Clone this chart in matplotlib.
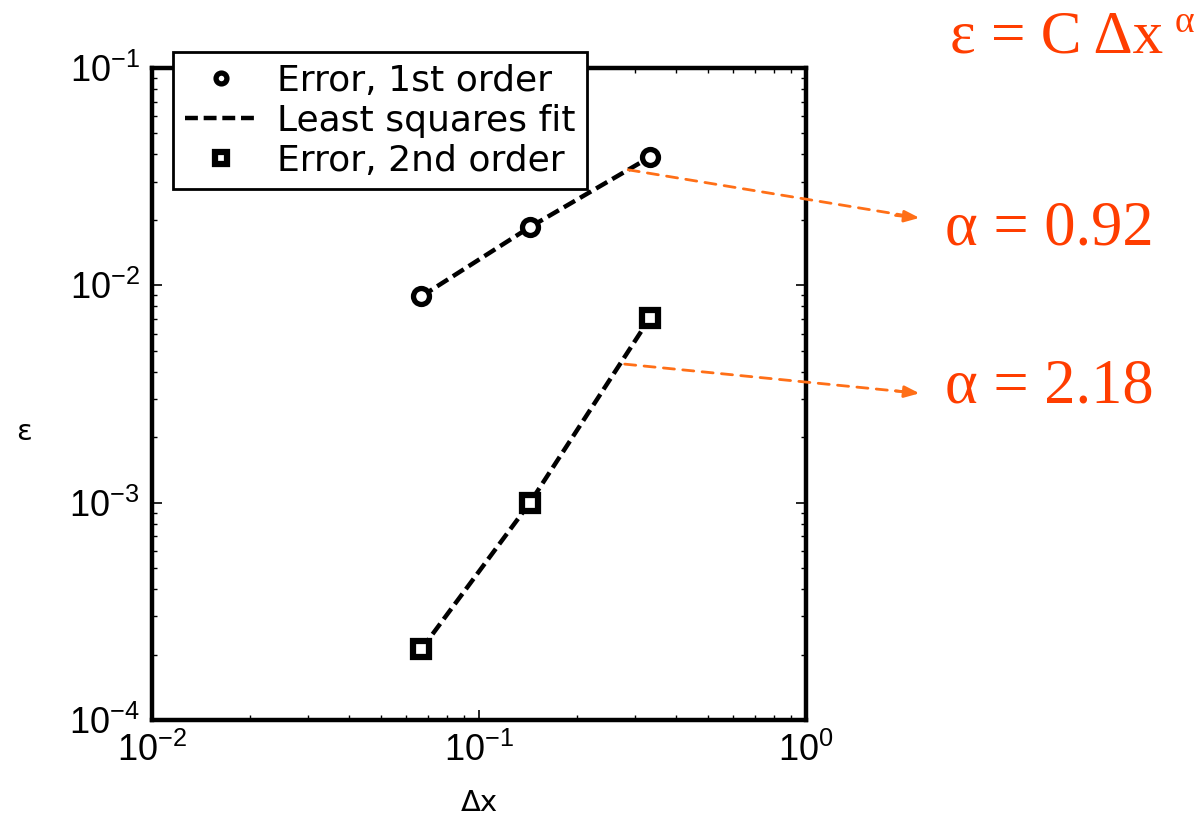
import numpy as np
import matplotlib
matplotlib.use('Agg')
import matplotlib.pyplot as plt

plt.rcParams['font.family'] = ['Liberation Sans', 'DejaVu Sans']

# grid spacing and measured errors
dx = [1/15., 1/7., 1/3.]
err1 = [0.0089, 0.0185, 0.0389]      # 1st order scheme
err2 = [2.12e-4, 9.95e-4, 7.08e-3]   # 2nd order scheme
alphas = [0.92, 2.18]

black = 'k'
orange_txt = '#ff3d00'
orange_arr = '#ff6f17'
dash = (0, (2.9, 1.3))

fig = plt.figure(figsize=(12.02, 8.16), dpi=100)
ax = fig.add_axes([0.1265, 0.1176, 0.5440, 0.7991])

ax.plot(dx, err1, 'o', ms=11.5, mew=3.8, mfc='white', mec=black, label='Error, 1st order', zorder=3)
ax.plot(dx, err1, color=black, lw=3.2, linestyle=dash, label='Least squares fit')
ax.plot(dx, err2, 's', ms=12, mew=4.5, mfc='white', mec=black, label='Error, 2nd order', zorder=3)
ax.plot(dx, err2, color=black, lw=3.2, linestyle=dash)

ax.set_xscale('log')
ax.set_yscale('log')
ax.set_xlim(1e-2, 1e0)
ax.set_ylim(1e-4, 1e-1)
for s in ax.spines.values():
    s.set_linewidth(3.2)
ax.tick_params(which='both', direction='in', top=True, right=True, labelsize=26, width=1.2)
ax.tick_params(which='major', length=7, pad=9)
ax.tick_params(which='minor', length=3.5, width=1)

ax.set_xlabel('Δx', fontsize=21, family='DejaVu Sans', va='bottom')
ax.xaxis.set_label_coords(0.5, -0.1487)
ax.set_ylabel('ε', fontsize=21, family='DejaVu Sans', rotation=0, va='center', ha='center')
ax.yaxis.set_label_coords(-0.196, 0.442)

# legend sticking out over the top of the axes
leg = ax.legend(loc='upper left', bbox_to_anchor=(173/1202., 1 - 52/816.),
                bbox_transform=fig.transFigure, prop={'family': 'DejaVu Sans', 'size': 26},
                frameon=True, fancybox=False, markerscale=0.68, handlelength=2.0,
                handletextpad=0.55, borderpad=0.32, labelspacing=0.17,
                borderaxespad=0)
leg.get_frame().set_edgecolor(black)
leg.get_frame().set_linewidth(2)
leg.get_frame().set_alpha(1)
leg.set_zorder(5)

# power-law annotation
serif = ['Liberation Serif', 'DejaVu Serif']
fig.text(0.79, 0.936, 'ε = C Δx', fontsize=44, color=orange_txt, family=serif, va='baseline')
fig.text(0.977, 0.961, 'α', fontsize=27, color=orange_txt, family=serif, va='baseline')
fig.text(0.786, 0.700, 'α = %.2f' % alphas[0], fontsize=45, color=orange_txt, family=serif, va='baseline')
fig.text(0.786, 0.507, 'α = %.2f' % alphas[1], fontsize=45, color=orange_txt, family=serif, va='baseline')

tails = [(0.286, 0.034), (0.279, 0.00434)]
heads = [(0.765, 0.733), (0.765, 0.518)]
for t, h in zip(tails, heads):
    ax.annotate('', xy=h, xycoords='figure fraction', xytext=t, textcoords='data',
                arrowprops=dict(arrowstyle='-', color=orange_arr, lw=2, linestyle=(0, (4, 3)),
                                shrinkA=0, shrinkB=8), annotation_clip=False)
    ax.annotate('', xy=h, xycoords='figure fraction', xytext=(h[0] - 0.02, h[1] + 0.003),
                textcoords='figure fraction',
                arrowprops=dict(arrowstyle='-|>,head_length=0.9,head_width=0.35',
                                color=orange_arr, lw=2, shrinkA=0, shrinkB=0),
                annotation_clip=False)

fig.savefig('out.png', dpi=100)
